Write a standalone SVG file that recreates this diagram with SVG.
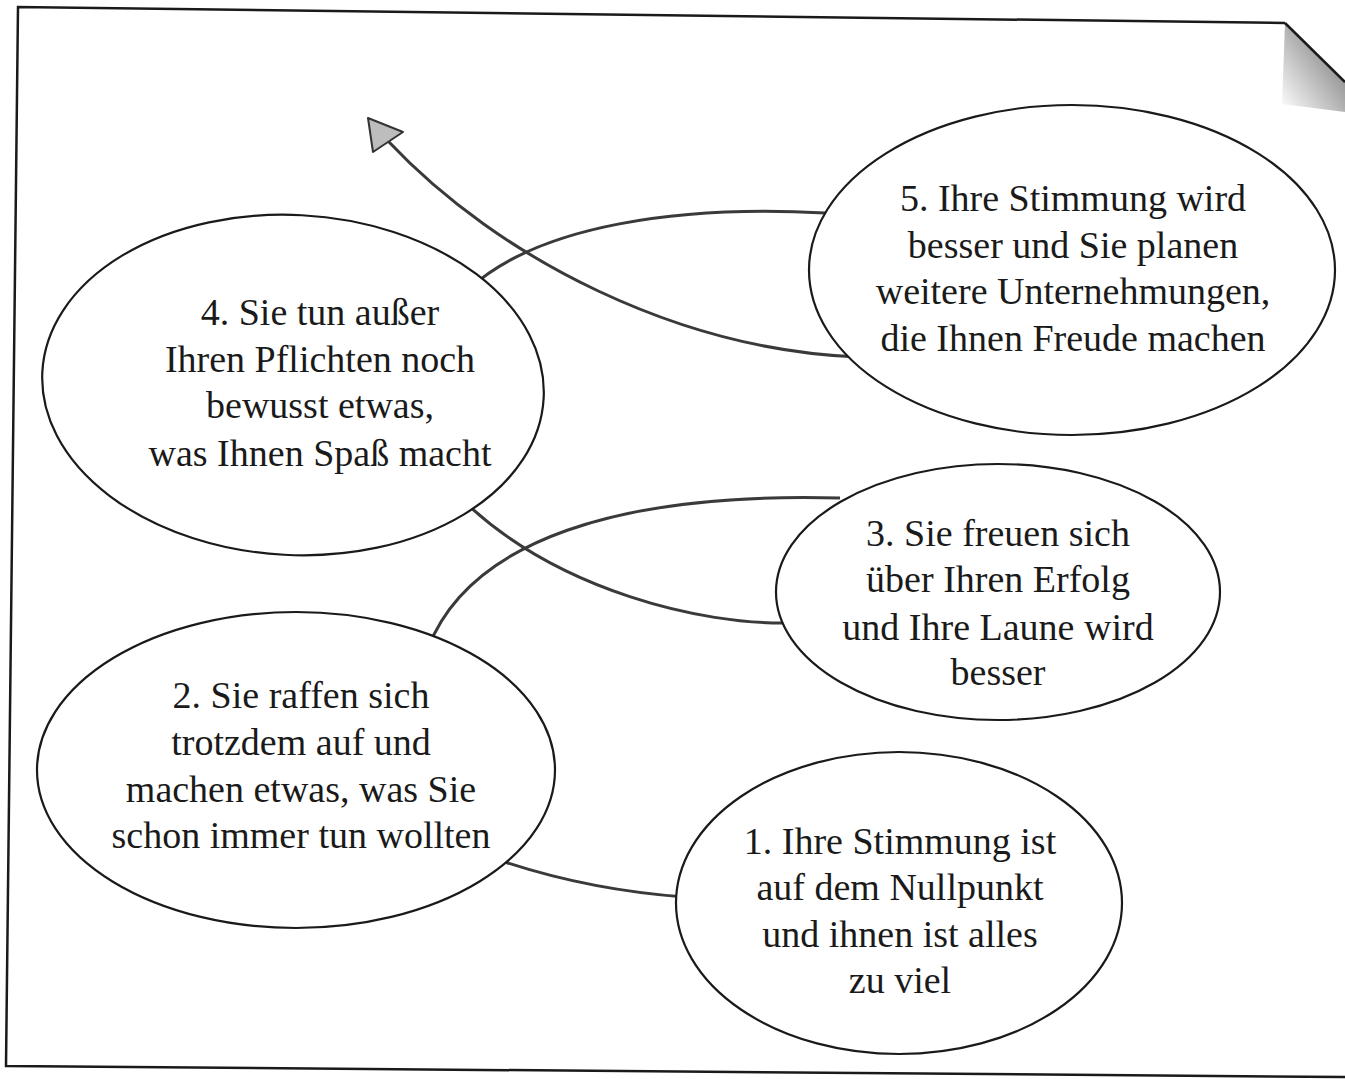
<svg xmlns="http://www.w3.org/2000/svg" width="1345" height="1079" viewBox="0 0 1345 1079">
<style>
.node ellipse{fill:#fff;stroke:#1a1a1a;stroke-width:2.2}
.node text{font-family:"Liberation Serif","DejaVu Serif",serif;font-size:38px;fill:#1a1a1a;text-anchor:middle}
.conn path{fill:none;stroke:#3a3a3a;stroke-width:3}
.frame{fill:none;stroke:#1a1a1a;stroke-width:2.5}
</style>
<defs>
<linearGradient id="curl" x1="1" y1="0" x2="0" y2="1">
<stop offset="0" stop-color="#666"/>
<stop offset="0.55" stop-color="#bbb"/>
<stop offset="1" stop-color="#fff"/>
</linearGradient>
</defs>
<rect width="1345" height="1079" fill="#fff"/>
<g id="frame">
<polyline class="frame" points="1285,23 18,7 6,1066 1345,1077"/>
<path d="M1285,23 L1345,82 L1345,112 L1282,104 Z" fill="url(#curl)"/>
<path d="M1285,23 L1345,82" class="frame" stroke-width="2"/>
</g>
<g id="connectors" class="conn">
<path d="M685,897 Q590,890 505,862"/>
<path d="M428,648 C470,540 620,492 840,498"/>
<path d="M790,623 C700,625 560,590 468,505"/>
<path d="M470,288 C540,225 680,205 825,213"/>
<path d="M858,357 C680,350 500,260 388,141"/>
<polygon points="368,118 403,132 373,152" fill="#bdbdbd" stroke="#333" stroke-width="2" stroke-linejoin="round"/>
</g>
<g id="node5" class="node">
<ellipse cx="1072" cy="270" rx="263" ry="165"/>
<text x="1073" y="211">5. Ihre Stimmung wird</text>
<text x="1073" y="258">besser und Sie planen</text>
<text x="1073" y="304">weitere Unternehmungen,</text>
<text x="1073" y="351">die Ihnen Freude machen</text>
</g>
<g id="node4" class="node">
<ellipse cx="293" cy="385" rx="251" ry="170" transform="rotate(3 293 385)"/>
<text x="320" y="325">4. Sie tun außer</text>
<text x="320" y="372">Ihren Pflichten noch</text>
<text x="320" y="418">bewusst etwas,</text>
<text x="320" y="466">was Ihnen Spaß macht</text>
</g>
<g id="node3" class="node">
<ellipse cx="998" cy="592" rx="222" ry="128"/>
<text x="998" y="546">3. Sie freuen sich</text>
<text x="998" y="592">über Ihren Erfolg</text>
<text x="998" y="640">und Ihre Laune wird</text>
<text x="998" y="685">besser</text>
</g>
<g id="node2" class="node">
<ellipse cx="296" cy="770" rx="259" ry="158"/>
<text x="301" y="708">2. Sie raffen sich</text>
<text x="301" y="755">trotzdem auf und</text>
<text x="301" y="802">machen etwas, was Sie</text>
<text x="301" y="848">schon immer tun wollten</text>
</g>
<g id="node1" class="node">
<ellipse cx="899" cy="903" rx="223" ry="151"/>
<text x="900" y="854">1. Ihre Stimmung ist</text>
<text x="900" y="900">auf dem Nullpunkt</text>
<text x="900" y="947">und ihnen ist alles</text>
<text x="900" y="993">zu viel</text>
</g>
</svg>
